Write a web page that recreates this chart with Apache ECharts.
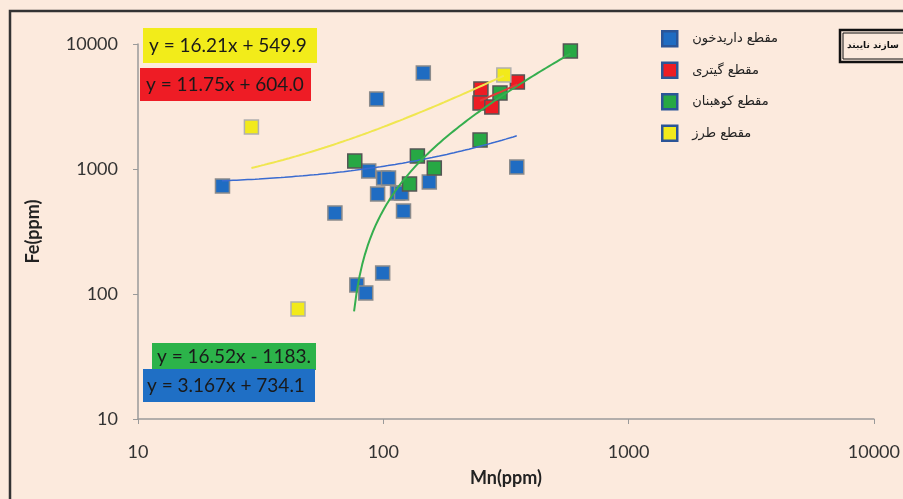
<!DOCTYPE html>
<html><head><meta charset="utf-8">
<script src="https://cdn.jsdelivr.net/npm/echarts@6/dist/echarts.min.js"></script>
<style>html,body{margin:0;padding:0;background:#FCEADD;}#c{width:903px;height:499px;}</style>
</head><body><div id="c"></div>
<script>
// ---- data (Mn ppm, Fe ppm) ----
const seriesNames = ['مقطع داریدخون', 'مقطع گیتری', 'مقطع کوهبنان', 'مقطع طرز'];
const blueMn = [22.1, 94, 145.6, 63.5, 87.2, 100.3, 105, 94.8, 114.3, 118.7, 154, 120.9, 350, 99.4, 78, 84.8];
const blueFe = [731, 3631, 5861, 445, 964, 847, 847, 631, 643, 643, 787, 461, 1038, 147, 118, 102];
const redMn = [250, 248, 277, 352];
const redFe = [4365, 3373, 3133, 4966];
const greenMn = [76.5, 137.7, 161.4, 127.9, 248, 299, 579];
const greenFe = [1159, 1271, 1019, 759, 1706, 4055, 8790];
const yellowMn = [310, 29, 44.9];
const yellowFe = [5649, 2168, 75.9];
// trend-line equations shown on the chart (y = a*x + b) and their drawn Mn ranges
const trendSlope = [3.167, 11.75, 16.52, 16.21];
const trendIntercept = [734.1, 604.0, -1183, 549.9];
const trendFrom = [22, 248, 76, 29];
const trendTo = [350, 352, 579, 310];
const trendLabels = ['y = 3.167x + 734.1', 'y = 11.75x + 604.0', 'y = 16.52x - 1183.', 'y = 16.21x + 549.9'];
const axisTicks = [10, 100, 1000, 10000];

const fills = ['#1F6CC2', '#ED1C24', '#27A844', '#F2EA1B'];
const borders = ['#8a8a8a', '#555555', '#555555', '#b0b0b0'];
const lineColors = ['#3A6BD0', '#E23A3A', '#35AE4E', '#F0E650'];

function pts(xs, ys) { return xs.map((x, i) => [x, ys[i]]); }
function trend(k) {
  const out = [];
  const n = 80;
  const l0 = Math.log10(trendFrom[k]), l1 = Math.log10(trendTo[k]);
  for (let i = 0; i <= n; i++) {
    const x = Math.pow(10, l0 + (l1 - l0) * i / n);
    const y = trendSlope[k] * x + trendIntercept[k];
    if (y > 0) out.push([x, y]);
  }
  return out;
}
const scatterData = [pts(blueMn, blueFe), pts(redMn, redFe), pts(greenMn, greenFe), pts(yellowMn, yellowFe)];

const series = [];
scatterData.forEach((d, k) => {
  series.push({
    name: seriesNames[k], type: 'scatter', data: d, symbol: 'rect', symbolSize: 14, z: 3,
    itemStyle: { color: fills[k], borderColor: borders[k], borderWidth: 1.5, opacity: 1 }
  });
});
[3, 0, 2, 1].forEach(k => {
  series.push({
    name: 'trend' + k, type: 'line', data: trend(k), showSymbol: false, symbol: 'none', smooth: false, z: 4,
    lineStyle: { color: lineColors[k], width: k === 0 ? 1.5 : 2 }, silent: true
  });
});

const font = 'Lato, "Open Sans", sans-serif';
function box(x, y, w, h, fill, text, tx) {
  return [
    { type: 'rect', shape: { x: x, y: y, width: w, height: h }, style: { fill: fill }, z: 10 },
    { type: 'text', x: tx, y: y + h / 2, style: { text: text, fill: '#1a1a1a', font: '19px ' + font, textVerticalAlign: 'middle', verticalAlign: 'middle' }, z: 11 }
  ];
}

const chart = echarts.init(document.getElementById('c'));
chart.setOption({
  backgroundColor: '#FCEADD',
  animation: false,
  grid: { left: 138, top: 44, right: 25, bottom: 80 },
  xAxis: {
    type: 'log', logBase: 10, min: axisTicks[0], max: axisTicks[3],
    name: 'Mn(ppm)', nameLocation: 'middle', nameGap: 50,
    nameTextStyle: { fontFamily: font, fontSize: 18, fontWeight: 'bold', color: '#222' },
    axisLine: { lineStyle: { color: '#9a9a9a', width: 1.5 } },
    axisTick: { show: true, length: 5, lineStyle: { color: '#9a9a9a' } },
    minorTick: { show: false }, splitLine: { show: false },
    axisLabel: { fontFamily: font, fontSize: 18, color: '#333', margin: 24, formatter: v => String(Math.round(v)) }
  },
  yAxis: {
    type: 'log', logBase: 10, min: axisTicks[0], max: axisTicks[3],
    name: 'Fe(ppm)', nameLocation: 'middle', nameGap: 96, nameRotate: 90,
    nameTextStyle: { fontFamily: font, fontSize: 18, fontWeight: 'bold', color: '#222' },
    axisLine: { show: true, lineStyle: { color: '#9a9a9a', width: 1.5 } },
    axisTick: { show: true, length: 5, lineStyle: { color: '#9a9a9a' } },
    minorTick: { show: false }, splitLine: { show: false },
    axisLabel: { fontFamily: font, fontSize: 18, color: '#333', margin: 20, formatter: v => String(Math.round(v)) }
  },
  legend: {
    data: seriesNames.map((n, k) => ({ name: n, itemStyle: { color: fills[k], borderColor: '#2B5597', borderWidth: 2.5 } })),
    orient: 'vertical', left: 656, top: 25, itemWidth: 15, itemHeight: 15, itemGap: 14,
    icon: 'rect',
    textStyle: { fontFamily: '"DejaVu Sans", sans-serif', fontSize: 13, color: '#222', padding: [0, 0, 0, 10] }
  },
  graphic: [
    { type: 'rect', shape: { x: 10, y: 11, width: 920, height: 520 }, style: { fill: 'none', stroke: '#333', lineWidth: 2.5 }, z: 1 },
    ...box(143, 28, 174, 35, '#F2EC1A', trendLabels[3], 149),
    ...box(140, 68, 171, 33, '#EE1C25', trendLabels[1], 146),
    ...box(152, 343, 164, 27, '#2CB34A', trendLabels[2], 157),
    ...box(143, 369, 172, 33, '#1F6FC5', trendLabels[0], 147),
    { type: 'rect', shape: { x: 840, y: 30, width: 80, height: 32 }, style: { fill: '#FCEADD', stroke: '#111', lineWidth: 2.5 }, z: 10 },
    { type: 'rect', shape: { x: 843, y: 33, width: 80, height: 26 }, style: { fill: 'none', stroke: '#111', lineWidth: 1 }, z: 10 },
    { type: 'text', x: 873, y: 46, style: { text: 'سازند نایبند', fill: '#111', font: 'bold 9px "DejaVu Sans", sans-serif', textAlign: 'center', textVerticalAlign: 'middle', align: 'center', verticalAlign: 'middle' }, z: 11 }
  ],
  series: series
});
</script></body></html>
